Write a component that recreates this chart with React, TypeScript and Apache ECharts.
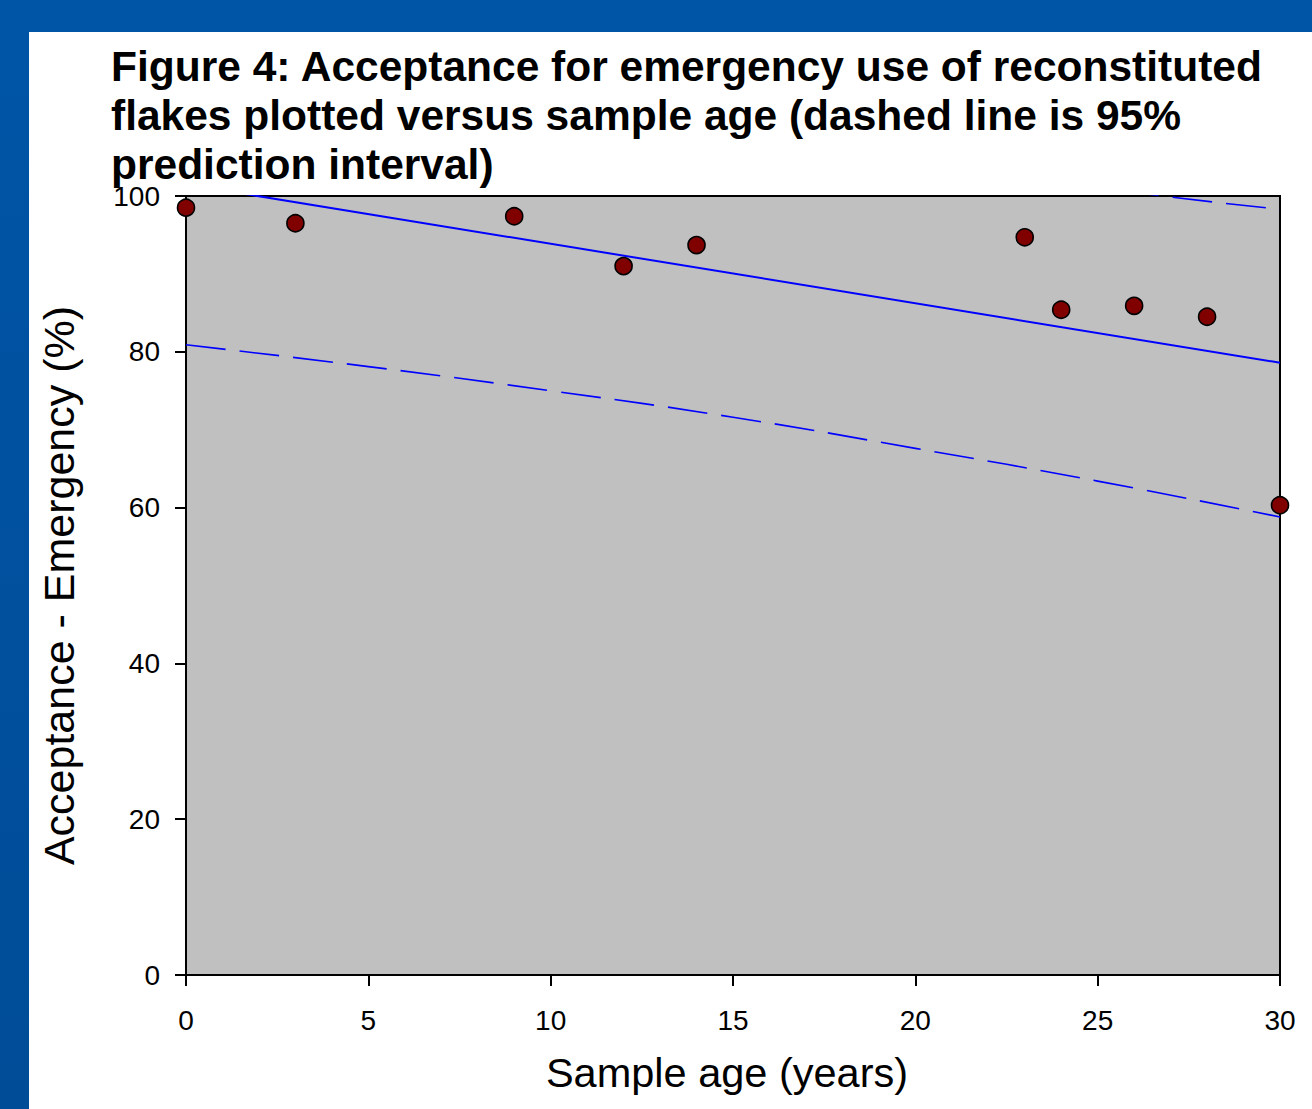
import React, { useEffect, useRef } from "react";
import * as echarts from "echarts";

const titleText =
  "Figure 4: Acceptance for emergency use of reconstituted\nflakes plotted versus sample age (dashed line is 95%\nprediction interval)";
const xAxisName = "Sample age (years)";
const yAxisName = "Acceptance - Emergency (%)";

// observed points
const sampleAge = [0, 3, 9, 12, 14, 23, 24, 26, 28, 30];
const acceptance = [98.5, 96.5, 97.4, 91.0, 93.7, 94.7, 85.4, 85.9, 84.5, 60.3];

// regression line
const fitX = [0, 30];
const fitY = [101.5, 78.6];

// 95% prediction interval
const lowerX = [0, 5, 10, 15, 20, 25, 30];
const lowerY = [80.9, 78.1, 75.0, 71.6, 67.6, 63.4, 58.8];
const upperX = [20, 25, 30];
const upperY = [104.9, 101.1, 98.3];

const FONT = "Arial, 'Liberation Sans', sans-serif";

const zip = (xs: number[], ys: number[]) => xs.map((x, i) => [x, ys[i]]);

export default function App() {
  const ref = useRef<HTMLDivElement>(null);
  useEffect(() => {
    document.body.style.margin = "0";
    const chart = echarts.init(ref.current!, null, { renderer: "svg" });
    chart.setOption({
      animation: false,
      backgroundColor: "#ffffff",
      graphic: [
        {
          type: "rect",
          shape: { x: 0, y: 0, width: 1312, height: 32 },
          style: { fill: "#0055a6" },
          silent: true,
        },
        {
          type: "rect",
          shape: { x: 0, y: 0, width: 29, height: 1109 },
          style: {
            fill: new echarts.graphic.LinearGradient(0, 0, 0, 1, [
              { offset: 0, color: "#0055a6" },
              { offset: 1, color: "#004c97" },
            ]),
          },
          silent: true,
        },
      ],
      title: {
        text: titleText,
        left: 111,
        top: 42,
        padding: 0,
        textStyle: {
          fontFamily: FONT,
          fontWeight: "bold",
          fontSize: 42.5,
          lineHeight: 49,
          color: "#000000",
        },
      },
      grid: {
        left: 186,
        top: 196,
        right: 32,
        bottom: 134,
        show: true,
        backgroundColor: "#c0c0c0",
        borderColor: "#000000",
        borderWidth: 2,
      },
      xAxis: {
        type: "value",
        min: 0,
        max: 30,
        interval: 5,
        name: xAxisName,
        nameLocation: "middle",
        nameGap: 76,
        nameTextStyle: { fontFamily: FONT, fontSize: 41.5, color: "#000000", padding: [0, 12, 0, 0] },
        axisLine: { show: true, onZero: false, lineStyle: { color: "#000000", width: 2 } },
        axisTick: { show: true, inside: false, length: 11, lineStyle: { color: "#000000", width: 2 } },
        axisLabel: { fontFamily: FONT, fontSize: 28, color: "#000000", margin: 31 },
        splitLine: { show: false },
      },
      yAxis: {
        type: "value",
        min: 0,
        max: 100,
        interval: 20,
        name: yAxisName,
        nameLocation: "middle",
        nameGap: 106,
        nameTextStyle: { fontFamily: FONT, fontSize: 43, color: "#000000" },
        axisLine: { show: true, onZero: false, lineStyle: { color: "#000000", width: 2 } },
        axisTick: { show: true, inside: false, length: 11, lineStyle: { color: "#000000", width: 2 } },
        axisLabel: { fontFamily: FONT, fontSize: 28, color: "#000000", margin: 26 },
        splitLine: { show: false },
      },
      series: [
        {
          type: "line",
          data: zip(fitX, fitY),
          showSymbol: false,
          symbol: "none",
          clip: true,
          lineStyle: { color: "#0000ff", width: 2 },
          z: 2,
        },
        {
          type: "line",
          data: zip(lowerX, lowerY),
          smooth: true,
          showSymbol: false,
          symbol: "none",
          clip: true,
          lineStyle: { color: "#0000ff", width: 1.6, type: [40, 14] },
          z: 2,
        },
        {
          type: "line",
          data: zip(upperX, upperY),
          smooth: true,
          showSymbol: false,
          symbol: "none",
          clip: true,
          lineStyle: { color: "#0000ff", width: 1.6, type: [40, 14], dashOffset: 10 },
          z: 2,
        },
        {
          type: "scatter",
          data: zip(sampleAge, acceptance),
          symbol: "circle",
          symbolSize: 17,
          clip: false,
          itemStyle: { color: "#800000", borderColor: "#000000", borderWidth: 1.6, opacity: 1 },
          z: 5,
        },
      ],
    });
    return () => chart.dispose();
  }, []);
  return (
    <div
      ref={ref}
      style={{ position: "fixed", left: 0, top: 0, width: 1312, height: 1109 }}
    />
  );
}
